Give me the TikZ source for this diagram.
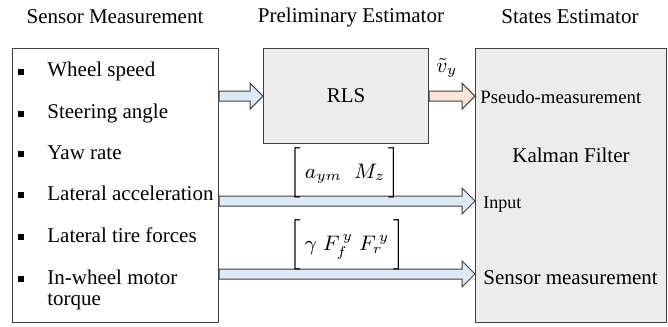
\documentclass[tikz,border=0pt]{standalone}
\usepackage{amsmath}
\usepackage{graphicx}
\usepackage{fontspec}
\setmainfont{Liberation Serif}
\usetikzlibrary{positioning,calc}

\definecolor{boxgray}{RGB}{236,236,236}
\definecolor{edgegray}{RGB}{64,64,64}
\definecolor{flowblue}{RGB}{221,233,245}
\definecolor{floworange}{RGB}{252,228,214}

% 9pt text blown up to 10.5pt
\newcommand\tx[1]{\scalebox{1.1667}{#1}}

% wide block arrow from #1 to #2, kept at the height of #1
\newcommand\fatarrow[3]{%
  \path[draw=edgegray,line width=0.5pt,fill=#3,line join=miter]
    let \p1=(#1), \p2=(#2) in
    (\x1,\y1+2.5pt) -- (\x2-6.5pt,\y1+2.5pt) -- (\x2-6.5pt,\y1+6.5pt) -- (\x2,\y1) --
    (\x2-6.5pt,\y1-6.5pt) -- (\x2-6.5pt,\y1-2.5pt) -- (\x1,\y1-2.5pt) -- cycle;}

\begin{document}
\begin{tikzpicture}[x=0.5pt,y=-0.5pt,
  font=\fontsize{9}{9}\selectfont,
  block/.style={draw=edgegray,line width=0.6pt,anchor=north west,inner sep=0pt},
  lbl/.style={inner sep=0pt},
  small/.style={font=\fontsize{9.4}{11}\selectfont},
  dot/.style={fill=black,minimum size=3pt,inner sep=0pt}
]
\useasboundingbox (0,0) rectangle (668,326);

\node[lbl] (t1) at (115,17) {\tx{Sensor Measurement}};
\node[lbl] (t2) at (351,17) {\tx{Preliminary Estimator}};
\node[lbl] (t3) at (570,17) {\tx{States Estimator}};

\node[block,fill=white,minimum width=103pt,minimum height=137pt] (sensors) at (12,48) {};
\node[block,fill=boxgray,minimum width=82.5pt,minimum height=47.5pt] (rls) at (263,48) {\tx{RLS}};
\node[block,fill=boxgray,minimum width=95.5pt,minimum height=137pt] (kalman) at (475,48) {};

\foreach \y/\txt in {70/Wheel speed,112/Steering angle,152/Yaw rate,193/Lateral acceleration,235/Lateral tire forces}{
  \node[dot] (d\y) at (21,\y+2) {};
  \node[lbl,anchor=base west] (i\y) at (47,\y+7) {\tx{\txt}};
}
\node[dot] (d277) at (21,279) {};
\node[lbl,anchor=base west] (i277) at (47,284)
  {\tx{\begin{tabular}[t]{@{}l@{}}In-wheel motor\\torque\end{tabular}}};

\node[lbl,small,anchor=base west] (pseudo) at (480,104) {Pseudo-measurement};
\node[lbl] (kf) at (571,155) {\tx{Kalman Filter}};
\node[lbl,anchor=base west] (inp) at (483,208) {Input};
\node[lbl,anchor=base west] (meas) at (483,284) {\tx{Sensor measurement}};

\coordinate (uline) at (0,201);
\coordinate (zline) at (0,274);

\fatarrow{sensors.east |- rls.center}{rls.west}{flowblue}
\fatarrow{rls.east}{kalman.west |- rls.center}{floworange}
\fatarrow{sensors.east |- uline}{kalman.west |- uline}{flowblue}
\fatarrow{sensors.east |- zline}{kalman.west |- zline}{flowblue}

\node[lbl] (vy) at (447,68) {\tx{$\tilde{v}_y$}};
\node[lbl] (uvec) at (345,173) {\tx{$\bigg[\,a_{ym}\;\;M_z\,\bigg]$}};
\node[lbl] (zvec) at (347,245) {\tx{$\bigg[\,\gamma\;F_f^{\,y}\;F_r^{\,y}\,\bigg]$}};
\end{tikzpicture}
\end{document}
